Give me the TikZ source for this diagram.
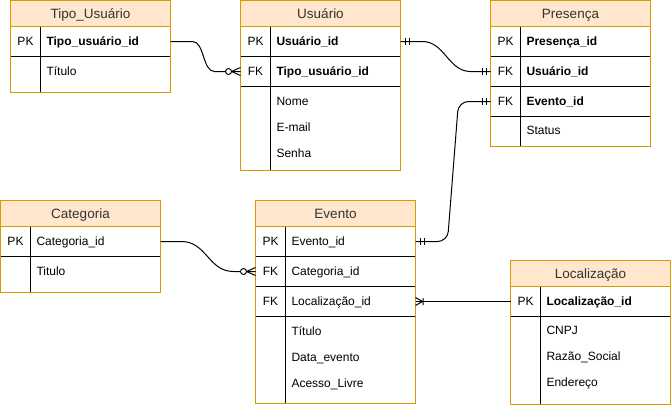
\documentclass[tikz,border=0pt]{standalone}
\usepackage{fontspec}
\setmainfont{Liberation Sans}
\usepackage{tikz}
\usetikzlibrary{positioning}

\definecolor{hdrfill}{HTML}{FFE6CC}
\definecolor{hdrline}{HTML}{D79B00}
\definecolor{hdrtext}{HTML}{333333}

% ER end markers, drawn on the outside (negative x) of a table border
\tikzset{
  zeromany/.pic={\draw (-9,0) -- (0,4) (-9,0) -- (0,-4); \draw[fill=white] (-12,0) circle (3pt);},
  mandone/.pic={\draw (-4.5,-3.5) -- (-4.5,3.5) (-8.5,-3.5) -- (-8.5,3.5);},
  onemany/.pic={\draw (-7,0) -- (0,4) (-7,0) -- (0,-4) (-7.5,-3.5) -- (-7.5,3.5);}
}

\begin{document}
\begin{tikzpicture}[x=1pt, y=-1pt, line width=1pt,
  every node/.style={inner sep=0pt, outer sep=0pt, font=\fontsize{12pt}{14pt}\selectfont, text height=8.6pt, text depth=0pt},
  hdr/.style={draw=hdrline, fill=hdrfill, minimum width=160pt, minimum height=26pt, text=hdrtext, font=\fontsize{13.5pt}{16pt}\selectfont, text height=9.6pt},
  keycell/.style={draw, minimum width=30pt, minimum height=30pt},
  fieldcell/.style={draw, minimum width=130pt, minimum height=30pt, text width=118pt, inner xsep=6pt, align=left, font=\fontsize{12pt}{14pt}\selectfont\bfseries},
  plain/.style={font=\fontsize{12pt}{14pt}\selectfont},
  attr/.style={anchor=west},
  frame/.style={draw=hdrline}]
\useasboundingbox (0,0) rectangle (671,405);

% Tipo_Usuario
\node[hdr, anchor=north west] (tu) at (10.5,0.5) {Tipo\_Usuário};
\node[keycell, anchor=north west] (tu-pk-k) at (tu.south west) {PK};
\node[fieldcell, right=0pt of tu-pk-k] (tu-pk) {Tipo\_usuário\_id};
\node[keycell, minimum height=36pt, below=0pt of tu-pk-k] (tu-at-k) {};
\node[fieldcell, minimum height=36pt, right=0pt of tu-at-k] (tu-at) {};
\foreach \f [count=\i] in {Título}
  \node[attr] (tu-a\i) at ([xshift=6pt, yshift=-14.5pt-(\i-1)*26pt]tu-at.north west) {\f};
\draw[frame] (tu.north west) rectangle (tu-at.south east) (tu.south west) -- (tu.south east);

% Usuario
\node[hdr, anchor=north west] (us) at (240.5,0.5) {Usuário};
\node[keycell, anchor=north west] (us-pk-k) at (us.south west) {PK};
\node[fieldcell, right=0pt of us-pk-k] (us-pk) {Usuário\_id};
\node[keycell, below=0pt of us-pk-k] (us-fk-k) {FK};
\node[fieldcell, right=0pt of us-fk-k] (us-fk) {Tipo\_usuário\_id};
\node[keycell, minimum height=84pt, below=0pt of us-fk-k] (us-at-k) {};
\node[fieldcell, minimum height=84pt, right=0pt of us-at-k] (us-at) {};
\foreach \f [count=\i] in {Nome, E-mail, Senha}
  \node[attr] (us-a\i) at ([xshift=6pt, yshift=-14.5pt-(\i-1)*26pt]us-at.north west) {\f};
\draw[frame] (us.north west) rectangle (us-at.south east) (us.south west) -- (us.south east);

% Presenca
\node[hdr, anchor=north west] (pr) at (490.5,0.5) {Presença};
\node[keycell, anchor=north west] (pr-pk-k) at (pr.south west) {PK};
\node[fieldcell, right=0pt of pr-pk-k] (pr-pk) {Presença\_id};
\node[keycell, below=0pt of pr-pk-k] (pr-fk1-k) {FK};
\node[fieldcell, right=0pt of pr-fk1-k] (pr-fk1) {Usuário\_id};
\node[keycell, below=0pt of pr-fk1-k] (pr-fk2-k) {FK};
\node[fieldcell, right=0pt of pr-fk2-k] (pr-fk2) {Evento\_id};
\node[keycell, below=0pt of pr-fk2-k] (pr-at-k) {};
\node[fieldcell, right=0pt of pr-at-k] (pr-at) {};
\foreach \f [count=\i] in {Status}
  \node[attr] (pr-a\i) at ([xshift=6pt, yshift=-14pt-(\i-1)*26pt]pr-at.north west) {\f};
\draw[frame] (pr.north west) rectangle (pr-at.south east) (pr.south west) -- (pr.south east);

% Categoria
\node[hdr, anchor=north west] (ca) at (0.5,200.5) {Categoria};
\node[keycell, anchor=north west] (ca-pk-k) at (ca.south west) {PK};
\node[fieldcell, plain, right=0pt of ca-pk-k] (ca-pk) {Categoria\_id};
\node[keycell, minimum height=36pt, below=0pt of ca-pk-k] (ca-at-k) {};
\node[fieldcell, minimum height=36pt, right=0pt of ca-at-k] (ca-at) {};
\foreach \f [count=\i] in {Titulo}
  \node[attr] (ca-a\i) at ([xshift=6pt, yshift=-14.5pt-(\i-1)*26pt]ca-at.north west) {\f};
\draw[frame] (ca.north west) rectangle (ca-at.south east) (ca.south west) -- (ca.south east);

% Evento
\node[hdr, anchor=north west] (ev) at (255.5,200.5) {Evento};
\node[keycell, anchor=north west] (ev-pk-k) at (ev.south west) {PK};
\node[fieldcell, plain, right=0pt of ev-pk-k] (ev-pk) {Evento\_id};
\node[keycell, below=0pt of ev-pk-k] (ev-fk1-k) {FK};
\node[fieldcell, plain, right=0pt of ev-fk1-k] (ev-fk1) {Categoria\_id};
\node[keycell, below=0pt of ev-fk1-k] (ev-fk2-k) {FK};
\node[fieldcell, plain, right=0pt of ev-fk2-k] (ev-fk2) {Localização\_id};
\node[keycell, minimum height=87pt, below=0pt of ev-fk2-k] (ev-at-k) {};
\node[fieldcell, minimum height=87pt, right=0pt of ev-at-k] (ev-at) {};
\foreach \f [count=\i] in {Título, Data\_evento, Acesso\_Livre}
  \node[attr] (ev-a\i) at ([xshift=6pt, yshift=-14.5pt-(\i-1)*26pt]ev-at.north west) {\f};
\draw[frame] (ev.north west) rectangle (ev-at.south east) (ev.south west) -- (ev.south east);

% Localizacao
\node[hdr, anchor=north west] (lo) at (510.5,260.5) {Localização};
\node[keycell, anchor=north west] (lo-pk-k) at (lo.south west) {PK};
\node[fieldcell, right=0pt of lo-pk-k] (lo-pk) {Localização\_id};
\node[keycell, minimum height=88pt, below=0pt of lo-pk-k] (lo-at-k) {};
\node[fieldcell, minimum height=88pt, right=0pt of lo-at-k] (lo-at) {};
\foreach \f [count=\i] in {CNPJ, Razão\_Social, Endereço}
  \node[attr] (lo-a\i) at ([xshift=6pt, yshift=-14pt-(\i-1)*26pt]lo-at.north west) {\f};
\draw[frame] (lo.north west) rectangle (lo-at.south east) (lo.south west) -- (lo.south east);

% relations
\draw (tu-pk.east) -- ++(22,0) .. controls +(12,0) and +(-12,0) .. ([xshift=-26pt]us-fk-k.west) -- (us-fk-k.west);
\pic at (us-fk-k.west) {zeromany};

\draw (us-pk.east) -- ++(22,0) .. controls +(22,0) and +(-22,0) .. ([xshift=-20pt]pr-fk1-k.west) -- (pr-fk1-k.west);
\pic[rotate=180] at (us-pk.east) {mandone};
\pic at (pr-fk1-k.west) {mandone};

\draw[rounded corners=10pt] (ev-pk.east) -- ([xshift=32pt]ev-pk.east) -- ([xshift=-32pt]pr-fk2-k.west) -- (pr-fk2-k.west);
\pic[rotate=180] at (ev-pk.east) {mandone};
\pic at (pr-fk2-k.west) {mandone};

\draw (ca-pk.east) -- ++(21,0) .. controls +(25,0) and +(-25,0) .. ([xshift=-22pt]ev-fk1-k.west) -- (ev-fk1-k.west);
\pic at (ev-fk1-k.west) {zeromany};

\draw (lo-pk-k.west) -- (ev-fk2.east);
\pic[rotate=180] at (ev-fk2.east) {onemany};
\end{tikzpicture}
\end{document}
